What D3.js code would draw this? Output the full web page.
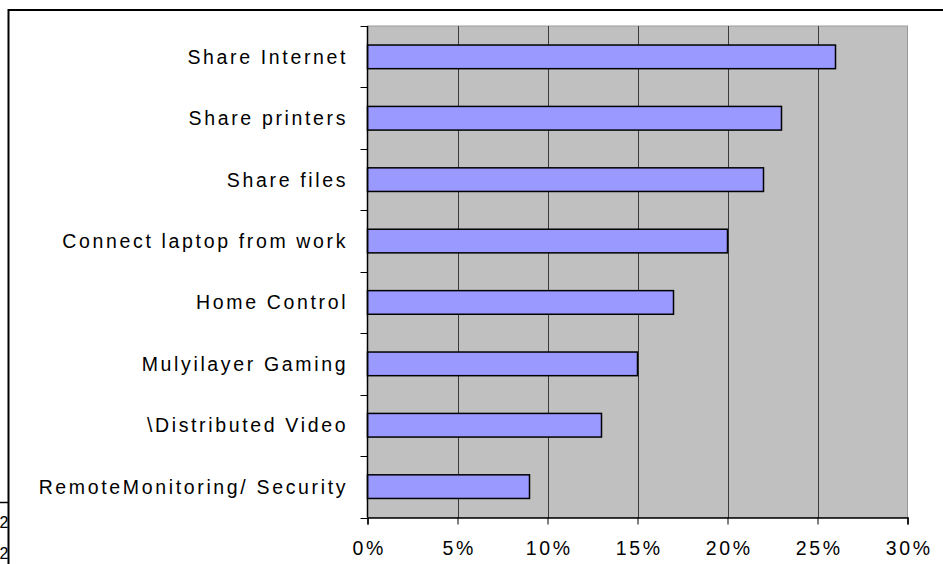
<!DOCTYPE html>
<html>
<head>
<meta charset="utf-8">
<script src="https://cdn.jsdelivr.net/npm/d3@7"></script>
<style>
  body { margin: 0; background: #fff; }
  text { font-family: Arial, "Liberation Sans", sans-serif; fill: #000; }
</style>
</head>
<body>
<svg id="chart" width="943" height="564"></svg>
<script>
const categories = [
  'Share Internet',
  'Share printers',
  'Share files',
  'Connect laptop from work',
  'Home Control',
  'Mulyilayer Gaming',
  '\\Distributed Video',
  'RemoteMonitoring/ Security'
];
const values = [26, 23, 22, 20, 17, 15, 13, 9];
const xTicks = [0, 5, 10, 15, 20, 25, 30];

const svg = d3.select('#chart');

const plot = { left: 367.5, right: 907.5, top: 26, bottom: 517.5 };
const labelSize = 19.5;
const spacing = 2.65;

// frame fragments of the slide around the chart
svg.append('line')
  .attr('x1', 8).attr('x2', 943).attr('y1', 10).attr('y2', 10)
  .attr('stroke', '#000').attr('stroke-width', 2);
svg.append('line')
  .attr('x1', 8.5).attr('x2', 8.5).attr('y1', 9).attr('y2', 564)
  .attr('stroke', '#000').attr('stroke-width', 2);
svg.append('line')
  .attr('x1', 0).attr('x2', 8).attr('y1', 502.5).attr('y2', 502.5)
  .attr('stroke', '#000').attr('stroke-width', 1.5);
svg.selectAll('.edge-num')
  .data([528, 559])
  .enter()
    .append('text')
    .attr('class', 'edge-num')
    .attr('x', -0.5)
    .attr('y', d => d)
    .style('font-size', '16px')
    .text('2');

const x = d3.scaleLinear().domain([0, 30]).range([plot.left, plot.right]);
const y = d3.scaleBand().domain(categories).range([plot.top, plot.bottom]).paddingInner(0.615).paddingOuter(0.31);

// plot area
svg.append('rect')
  .attr('x', plot.left).attr('y', plot.top)
  .attr('width', plot.right - plot.left).attr('height', plot.bottom - plot.top)
  .attr('fill', '#c0c0c0')
  .attr('stroke', '#999').attr('stroke-width', 1);

// gridlines
svg.selectAll('.grid')
  .data(xTicks.slice(1, -1))
  .enter()
    .append('line')
    .attr('class', 'grid')
    .attr('x1', d => Math.round(x(d)) + 0.5).attr('x2', d => Math.round(x(d)) + 0.5)
    .attr('y1', plot.top).attr('y2', plot.bottom)
    .attr('stroke', '#3a3a3a').attr('stroke-width', 1);

// bars
svg.selectAll('.bar')
  .data(values)
  .enter()
    .append('rect')
    .attr('class', 'bar')
    .attr('x', plot.left)
    .attr('y', (d, i) => y(categories[i]))
    .attr('width', d => x(d) - x(0))
    .attr('height', y.bandwidth())
    .attr('fill', '#9999ff')
    .attr('stroke', '#000').attr('stroke-width', 1.5);

// y axis: line + ticks at category boundaries
const bounds = d3.range(categories.length + 1).map(i => plot.top + i * (plot.bottom - plot.top) / categories.length);
svg.append('line')
  .attr('x1', plot.left).attr('x2', plot.left)
  .attr('y1', plot.top).attr('y2', plot.bottom)
  .attr('stroke', '#000').attr('stroke-width', 1.5);
svg.selectAll('.ytick')
  .data(bounds)
  .enter()
    .append('line')
    .attr('class', 'ytick')
    .attr('x1', plot.left - 7).attr('x2', plot.left)
    .attr('y1', d => Math.round(d) + 0.5).attr('y2', d => Math.round(d) + 0.5)
    .attr('stroke', '#000').attr('stroke-width', 1);

svg.selectAll('.ylabel')
  .data(categories)
  .enter()
    .append('text')
    .attr('class', 'ylabel')
    .attr('x', 345.5 + spacing)
    .attr('y', d => y(d) + y.bandwidth() / 2)
    .attr('dy', '0.36em')
    .attr('text-anchor', 'end')
    .style('font-size', labelSize + 'px')
    .style('letter-spacing', spacing + 'px')
    .text(d => d);

// x axis
const xAxis = d3.axisBottom(x)
  .tickValues(xTicks)
  .tickSize(7)
  .tickFormat(d => d + '%');
const gx = svg.append('g')
  .attr('transform', `translate(0,${plot.bottom})`)
  .call(xAxis);
gx.select('.domain').attr('stroke', '#000').attr('stroke-width', 1.5);
gx.selectAll('.tick line').attr('stroke', '#000');
gx.selectAll('.tick text')
  .attr('fill', '#000')
  .attr('y', 37.5)
  .attr('dy', 0)
  .attr('dx', spacing / 2)
  .style('font-size', labelSize + 'px')
  .style('letter-spacing', spacing + 'px')
  .style('font-family', 'Arial, "Liberation Sans", sans-serif');
</script>
</body>
</html>
